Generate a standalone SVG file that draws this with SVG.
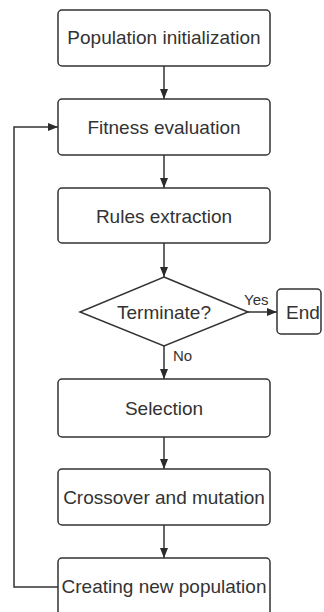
<svg xmlns="http://www.w3.org/2000/svg" width="324" height="612" viewBox="0 0 324 612">
<defs>
<marker id="ah" markerWidth="10" markerHeight="8" refX="10" refY="4" orient="auto" markerUnits="userSpaceOnUse">
<path d="M0,0 L10,4 L0,8 Z" fill="#2b2b2b"/>
</marker>
<style>
.box{fill:#ffffff;stroke:#333333;stroke-width:1.5}
.t{font-family:"Liberation Sans",Arial,sans-serif;font-size:19px;fill:#333333;text-anchor:middle}
.s{font-family:"Liberation Sans",Arial,sans-serif;font-size:15px;fill:#333333}
.c{fill:none;stroke:#333333;stroke-width:1.5}
</style>
</defs>
<rect width="324" height="612" fill="#ffffff"/>
<g id="connectors">
<line class="c" x1="164" y1="66" x2="164" y2="99" marker-end="url(#ah)"/>
<line class="c" x1="164" y1="155" x2="164" y2="188" marker-end="url(#ah)"/>
<line class="c" x1="164" y1="243" x2="164" y2="277" marker-end="url(#ah)"/>
<line class="c" x1="248" y1="312" x2="277" y2="312" marker-end="url(#ah)"/>
<line class="c" x1="164" y1="346" x2="164" y2="379" marker-end="url(#ah)"/>
<line class="c" x1="164" y1="437" x2="164" y2="469" marker-end="url(#ah)"/>
<line class="c" x1="164" y1="525" x2="164" y2="558" marker-end="url(#ah)"/>
<polyline class="c" points="58,587 14,587 14,127 58,127" marker-end="url(#ah)"/>
<text class="s" x="244" y="305">Yes</text>
<text class="s" x="173" y="361">No</text>
</g>
<g id="n1"><rect class="box" x="58" y="10" width="212" height="56" rx="4"/><text class="t" x="164" y="44">Population initialization</text></g>
<g id="n2"><rect class="box" x="58" y="99" width="212" height="56" rx="4"/><text class="t" x="164" y="134">Fitness evaluation</text></g>
<g id="n3"><rect class="box" x="58" y="188" width="212" height="55" rx="4"/><text class="t" x="164" y="223">Rules extraction</text></g>
<g id="n4"><polygon class="box" points="164,277 248,312 164,346 80,312"/><text class="t" x="164" y="319">Terminate?</text></g>
<g id="n5"><rect class="box" x="277" y="289" width="44" height="45" rx="4"/><text class="t" x="303" y="319">End</text></g>
<g id="n6"><rect class="box" x="58" y="379" width="212" height="58" rx="4"/><text class="t" x="164" y="415">Selection</text></g>
<g id="n7"><rect class="box" x="58" y="469" width="212" height="56" rx="4"/><text class="t" x="164" y="504">Crossover and mutation</text></g>
<g id="n8"><rect class="box" x="58" y="558" width="212" height="60" rx="4"/><text class="t" x="164" y="593">Creating new population</text></g>
</svg>
